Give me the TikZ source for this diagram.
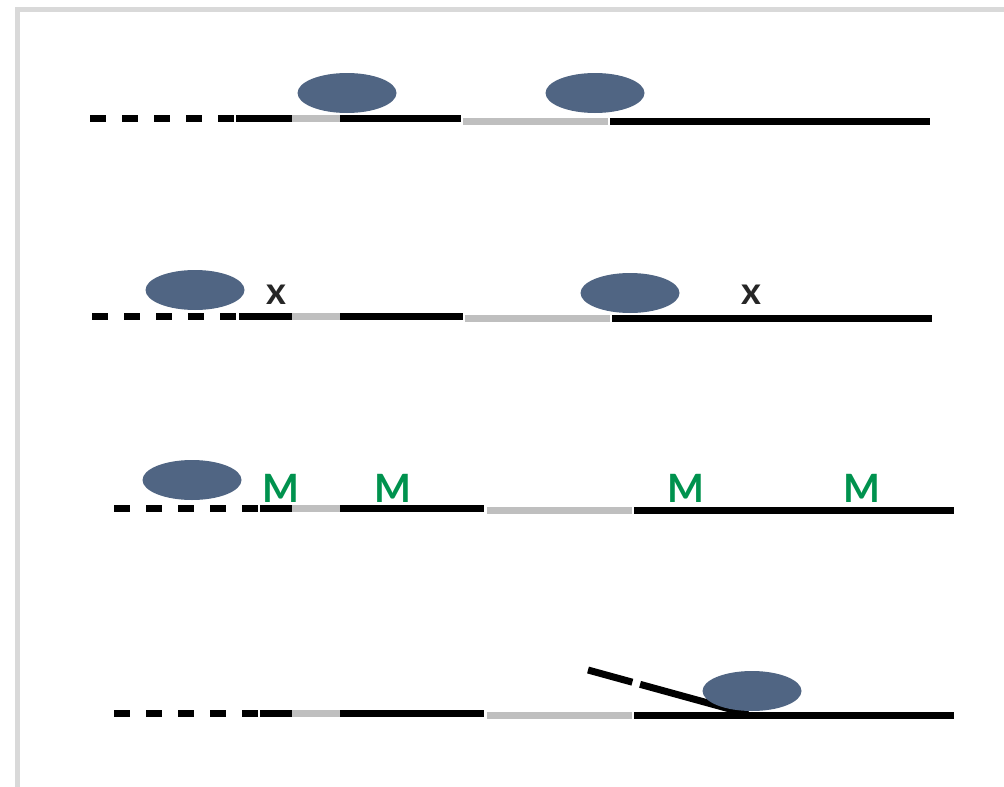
\documentclass[tikz,border=0pt]{standalone}
\usepackage{fontspec}
\setmainfont{Lato}
\usetikzlibrary{shapes.geometric}

\definecolor{blobblue}{RGB}{80,101,131}
\definecolor{strandgray}{RGB}{191,191,191}
\definecolor{markgreen}{RGB}{0,146,78}
\definecolor{framegray}{RGB}{217,217,217}

\begin{document}
\begin{tikzpicture}
        [x=1pt, y=-1pt,
        blob/.style={ellipse, fill=blobblue, minimum width=99pt, minimum height=40pt, inner sep=0pt},
        strand/.style={line width=7pt, black},
        gap/.style={line width=7pt, strandgray},
        loose/.style={line width=7pt, black, dash pattern=on 16pt off 16pt},
        cut/.style={font=\bfseries\fontsize{38}{38}\selectfont, text=black!85, anchor=base, inner sep=0pt},
        meth/.style={font=\bfseries\fontsize{39}{39}\selectfont, text=markgreen, anchor=base, inner sep=0pt}]

        \useasboundingbox (0,0) rectangle (1004,787);

        % frame
        \draw[framegray, line width=5pt] (1004,9) -- (17.5,9) -- (17.5,787);

        % row 1
        \draw[loose] (90,118) -- (234,118);
        \draw[strand] (236,118) -- (292,118);
        \draw[gap] (292,118) -- (340,118);
        \draw[strand] (340,118) -- (461,118);
        \draw[gap] (463,121) -- (608,121);
        \draw[strand] (610,121) -- (930,121);
        \node[blob] (b1a) at (347,93) {};
        \node[blob] (b1b) at (595,93) {};

        % row 2
        \draw[loose] (92,316) -- (236,316);
        \draw[strand] (239,316) -- (292,316);
        \draw[gap] (292,316) -- (340,316);
        \draw[strand] (340,316) -- (463,316);
        \draw[gap] (465,318) -- (610,318);
        \draw[strand] (612,318) -- (932,318);
        \node[blob] (b2a) at (195,290) {};
        \node[blob] (b2b) at (630,293) {};
        \node[cut] (x2a) at (276.5,304) {x};
        \node[cut] (x2b) at (751,304) {x};

        % row 3
        \draw[loose] (114,508) -- (258,508);
        \draw[strand] (260,508) -- (292,508);
        \draw[gap] (292,508) -- (340,508);
        \draw[strand] (340,508) -- (484,508);
        \draw[gap] (487,510) -- (632,510);
        \draw[strand] (634,510) -- (954,510);
        \node[blob] (b3a) at (192,480) {};
        \node[meth] (m3a) at (280.5,502) {M};
        \node[meth] (m3b) at (392.5,502) {M};
        \node[meth] (m3c) at (686,502) {M};
        \node[meth] (m3d) at (862,502) {M};

        % row 4
        \draw[loose] (114,713) -- (258,713);
        \draw[strand] (260,713) -- (292,713);
        \draw[gap] (292,713) -- (340,713);
        \draw[strand] (340,713) -- (484,713);
        \draw[gap] (487,715) -- (632,715);
        \draw[strand] (634,715) -- (954,715);
        \coordinate (tail) at (588,670);
        \coordinate (fork) at (748,714);
        \draw[line width=7pt, black, dash pattern=on 46pt off 8pt on 400pt] (tail) -- (fork);
        \node[blob] (b4a) at (752,691) {};

\end{tikzpicture}
\end{document}
